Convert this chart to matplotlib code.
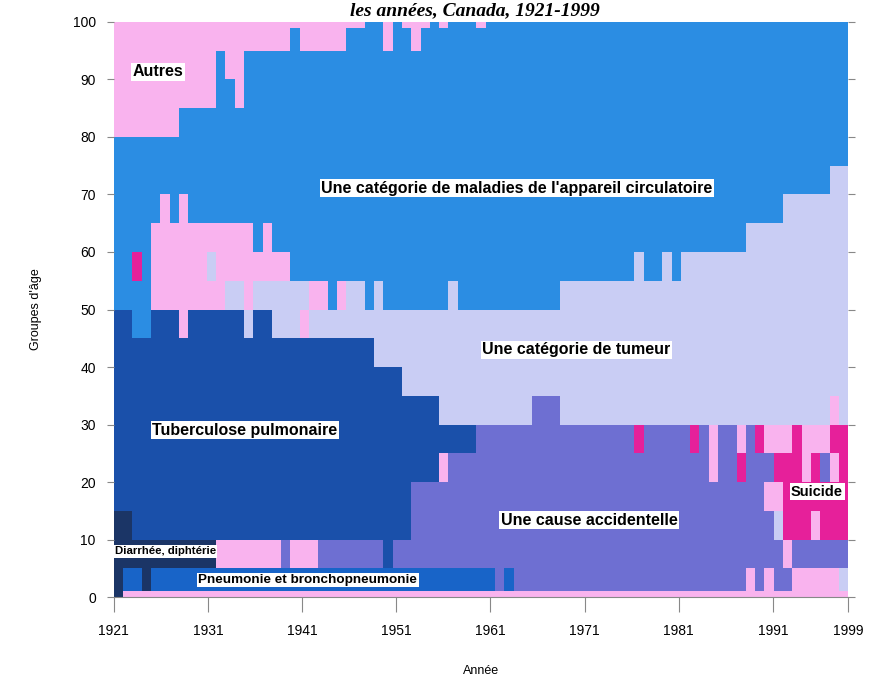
import numpy as np
import matplotlib
matplotlib.use("Agg")
import matplotlib.pyplot as plt
from matplotlib.colors import ListedColormap

plt.rcParams["font.family"] = ["Liberation Sans", "DejaVu Sans"]

# categories (code, label, colour)
codes = ["A", "C", "T", "P", "X", "S", "N", "D"]
colors = ["#F9B3EE", "#2B8DE3", "#C9CDF4", "#1A50AA",
          "#6E6FD2", "#E6209A", "#1864C8", "#1B3566"]

years = np.arange(1921, 2000)
age_edges = [0, 1, 5, 10, 15, 20, 25, 30, 35, 40, 45, 50,
             55, 60, 65, 70, 75, 80, 85, 90, 95, 99, 100]

# leading cause per age group, run-length coded from 1921 to 1999
# (first string = youngest group)
rows = [
    "D1 A78",
    "D1 N2 D1 N37 X1 N1 X25 A1 X1 A1 X2 A5 T1",
    "D11 A7 X1 A3 X7 P1 X42 A1 X6",
    "D2 P30 X39 T1 S3 A1 S3",
    "P32 X38 A2 S7",
    "P35 A1 X28 A1 X2 S1 X3 S3 A1 S1 X1 A1 S1",
    "P39 X17 S1 X5 S1 X1 A1 X2 A1 X1 S1 A3 S1 A3 S2",
    "P35 T10 X3 T29 A1 T1",
    "P31 T48",
    "P28 T51",
    "P2 C2 P3 A1 P6 T1 P2 T3 A1 T58",
    "C4 A8 T2 A1 T6 A2 C1 A1 T2 C1 T1 C7 T1 C11 T31",
    "C2 S1 C1 A6 T1 A8 C37 T1 C2 T1 C1 T18",
    "C4 A11 C1 A1 C51 T11",
    "C5 A1 C1 A1 C64 T7",
    "C77 T2",
    "C79",
    "A7 C72",
    "A11 C2 A1 C65",
    "A11 C1 A2 C65",
    "A19 C1 A5 C4 A1 C2 A1 C46",
    "A27 C2 A1 C1 A3 C1 A1 C3 A1 C39",
]

labels = ["Autres", "Une catégorie de maladies de l'appareil circulatoire",
          "Une catégorie de tumeur", "Tuberculose pulmonaire",
          "Une cause accidentelle", "Suicide",
          "Pneumonie et bronchopneumonie", "Diarrhée, diphtérie"]
label_x = [1925.7, 1963.8, 1970.1, 1934.9, 1971.5, 1995.7, 1941.6, 1921.1]
label_y = [91.3, 71.1, 43.0, 29.0, 13.4, 18.3, 3.0, 8.0]
label_size = [11.5, 11.5, 11.5, 11.5, 11.5, 10.5, 9.7, 8.2]


def decode(run_string):
    out = []
    for run in run_string.split():
        out += [codes.index(run[0])] * int(run[1:])
    return out


grid = np.array([decode(r) for r in rows])

fig = plt.figure(figsize=(8.69, 6.81), dpi=100)
ax = fig.add_axes([0.131, 0.123, 0.845, 0.845])

x_edges = np.linspace(1921, 1999, len(years) + 1)
ax.pcolormesh(x_edges, age_edges, grid, cmap=ListedColormap(colors),
              vmin=-0.5, vmax=len(codes) - 0.5, shading="flat")

for txt, x, y, s in zip(labels, label_x, label_y, label_size):
    ha = "left" if txt.startswith("Diarrh") else "center"
    ax.text(x, y, txt, ha=ha, va="center", fontsize=s, fontweight="bold",
            color="black",
            bbox=dict(facecolor="white", edgecolor="none", pad=1))

ax.set_xlim(1921, 1999)
ax.set_ylim(0, 100)
ax.set_xticks([1921, 1931, 1941, 1951, 1961, 1971, 1981, 1991, 1999])
ax.set_yticks(range(0, 101, 10))
ax.tick_params(axis="x", labelsize=10, length=11, pad=8, color="#888888")
ax.tick_params(axis="y", labelsize=10, length=5, pad=8, color="#888888",
               right=True)
for side in ["top", "left", "right"]:
    ax.spines[side].set_visible(False)
ax.spines["bottom"].set_color("#888888")

ax.set_xlabel("Année", fontsize=9, labelpad=20)
ax.set_ylabel("Groupes d'âge", fontsize=9, labelpad=22)

fig.text(0.69, 0.997, "les années, Canada, 1921-1999", ha="right",
         va="top", fontsize=14, fontweight="bold", style="italic",
         family="Liberation Serif")

fig.savefig("out.png")
plt.close(fig)
